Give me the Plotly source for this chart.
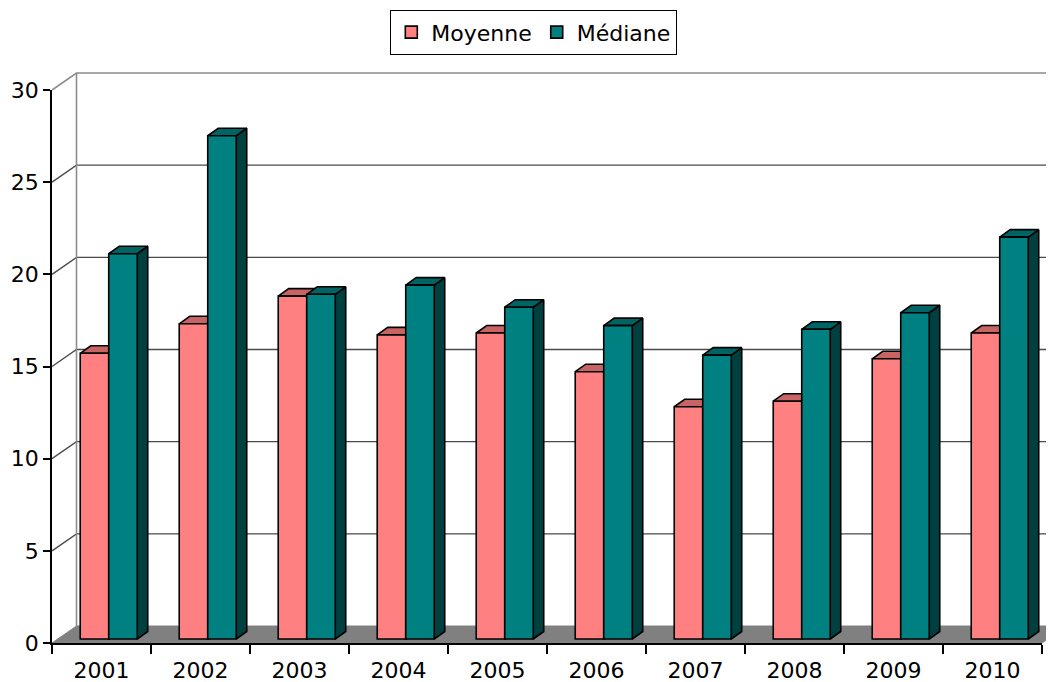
import plotly.graph_objects as go

# ---------------- data ----------------
years = ["2001", "2002", "2003", "2004", "2005", "2006", "2007", "2008", "2009", "2010"]
moyenne = [15.5, 17.1, 18.6, 16.5, 16.6, 14.5, 12.6, 12.9, 15.2, 16.6]
mediane = [20.9, 27.3, 18.7, 19.2, 18.0, 17.0, 15.4, 16.8, 17.7, 21.8]
series_names = ["Moyenne", "Médiane"]
y_ticks = [0, 5, 10, 15, 20, 25, 30]

# ---------------- styling / geometry ----------------
front_colors = ["#FF8080", "#008080"]
top_colors = ["#C86464", "#006464"]
side_colors = ["#A05050", "#004040"]
FONT = "DejaVu Sans"

PAGE_W, PAGE_H = 1054, 682
BODY = 8                      # default page margin around the figure div
W, H = PAGE_W - BODY, PAGE_H - BODY
# target positions in page pixels, converted to figure pixels
LEFT_PX = 52 - BODY           # front y axis
BOTTOM_PX = 643 - BODY        # front x axis
FRONT_RIGHT_PX = 1042 - BODY
FRONT_TOP_PX = 90 - BODY
ML, MR, MT = LEFT_PX, 0, 60 - BODY
MB = H - BOTTOM_PX
plot_w = W - ML - MR
plot_h = H - MT - MB
xfrac = (FRONT_RIGHT_PX - ML) / plot_w
yfrac = (BOTTOM_PX - FRONT_TOP_PX) / plot_h
n = len(years)
ymax = y_ticks[-1]
X0, X1 = -0.5, n - 0.5
xA = [X0, X0 + n / xfrac]
yA = [0, ymax / yfrac]
px_cat = (FRONT_RIGHT_PX - ML) / n
px_val = (BOTTOM_PX - FRONT_TOP_PX) / ymax
DX, DY = 24.5 / px_cat, 17.0 / px_val       # wall depth
BZ = 4.0 / px_val                             # bar plane base
BDX, BDY = 10.5 / px_cat, 7.5 / px_val        # bar depth
OFFS = [-0.215, 0.073]
BW = 0.288
FAR = xA[1] + 1

fig = go.Figure()

# floor
fig.add_trace(go.Scatter(
    x=[X0, X1, X1 + DX, X0 + DX, X0], y=[0, 0, DY, DY, 0],
    mode="lines", fill="toself", fillcolor="#808080",
    line=dict(color="#808080", width=1), hoverinfo="skip", showlegend=False,
    xaxis="x", yaxis="y"))

# gridlines on the back wall (with their diagonals)
gx, gy = [], []
for v in y_ticks[1:-1]:
    gx += [X0, X0 + DX, FAR, None]
    gy += [v, v + DY, v + DY, None]
fig.add_trace(go.Scatter(x=gx, y=gy, mode="lines",
                         line=dict(color="#4a4a4a", width=1.4),
                         hoverinfo="skip", showlegend=False))

# wall border (gray)
fig.add_trace(go.Scatter(
    x=[X0, X0 + DX, FAR, None, X0 + DX, X0 + DX],
    y=[ymax, ymax + DY, ymax + DY, None, DY, ymax + DY],
    mode="lines", line=dict(color="#8c8c8c", width=1.6),
    hoverinfo="skip", showlegend=False))

# side and top faces
for s, vals in enumerate([moyenne, mediane]):
    sx, sy, tx, ty = [], [], [], []
    for i, v in enumerate(vals):
        x0 = i + OFFS[s]
        x1 = x0 + BW
        h = BZ + v
        sx += [x1, x1 + BDX, x1 + BDX, x1, x1, None]
        sy += [BZ, BZ + BDY, h + BDY, h, BZ, None]
        tx += [x0, x1, x1 + BDX, x0 + BDX, x0, None]
        ty += [h, h, h + BDY, h + BDY, h, None]
    fig.add_trace(go.Scatter(x=sx, y=sy, mode="lines", fill="toself",
                             fillcolor=side_colors[s],
                             line=dict(color="black", width=1.6),
                             hoverinfo="skip", showlegend=False))
    fig.add_trace(go.Scatter(x=tx, y=ty, mode="lines", fill="toself",
                             fillcolor=top_colors[s],
                             line=dict(color="black", width=1.6),
                             hoverinfo="skip", showlegend=False))

# front faces (bars) on the front-axis subplot
for s, vals in enumerate([moyenne, mediane]):
    fig.add_trace(go.Bar(
        x=years, y=vals, base=BZ, width=BW, offset=OFFS[s],
        name=series_names[s],
        marker=dict(color=front_colors[s], line=dict(color="black", width=1.6)),
        xaxis="x2", yaxis="y2", hoverinfo="skip"))

fig.update_layout(
    width=W, height=H,
    margin=dict(l=ML, r=MR, t=MT, b=MB, pad=0, autoexpand=False),
    paper_bgcolor="white", plot_bgcolor="rgba(0,0,0,0)",
    barmode="overlay",
    font=dict(family=FONT, size=22, color="black"),
    xaxis=dict(domain=[0, 1], range=xA, visible=False, fixedrange=True),
    yaxis=dict(domain=[0, 1], range=yA, visible=False, fixedrange=True),
    xaxis2=dict(domain=[0, xfrac], anchor="y2", type="category",
                range=[-0.5, n - 0.5], tickson="boundaries",
                ticks="outside", ticklen=9, tickwidth=1.5, tickcolor="black",
                ticklabelstandoff=7,
                showline=True, linecolor="black", linewidth=1.5,
                showgrid=False, tickfont=dict(size=22, family=FONT)),
    yaxis2=dict(domain=[0, yfrac], anchor="x2", range=[0, ymax],
                tickvals=y_ticks, ticks="outside", ticklen=7, tickwidth=1.5,
                tickcolor="black", showline=True, linecolor="black",
                linewidth=1.5, showgrid=False, zeroline=False,
                tickfont=dict(size=22, family=FONT)),
    legend=dict(orientation="h", x=(533.5 - BODY - ML) / plot_w, xanchor="center",
                y=(H - MB - (10 - BODY)) / plot_h, yanchor="top",
                bordercolor="black", borderwidth=1.3, bgcolor="white",
                font=dict(size=22, family=FONT), itemwidth=30,
                traceorder="normal"),
    showlegend=True,
)

fig.write_html("out.html")
